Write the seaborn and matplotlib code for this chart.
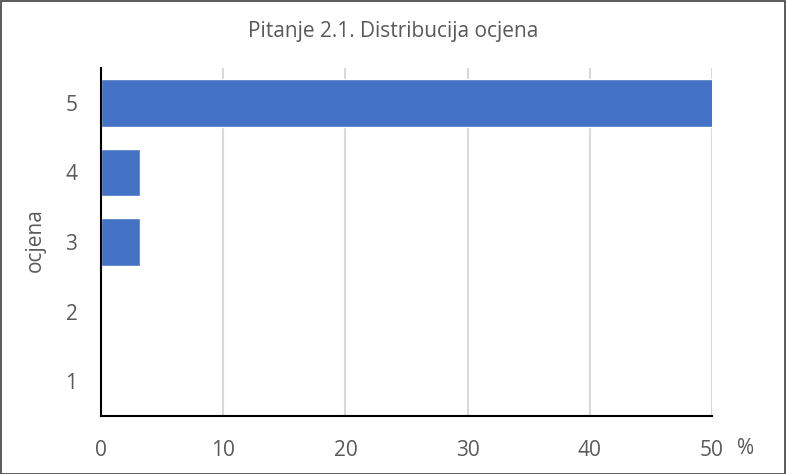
import pandas as pd
import numpy as np
import seaborn as sns
from matplotlib import pyplot as plt
from matplotlib.patches import Rectangle

# data
grades = ["5", "4", "3", "2", "1"]
percent = [93.5, 3.2, 3.2, 0, 0]
xticks = [0, 10, 20, 30, 40, 50]

df = pd.DataFrame({"ocjena": grades, "pct": percent})

sns.set_theme(style="white")
plt.rcParams["font.family"] = ["Open Sans", "DejaVu Sans"]
grey = "#595959"
fs = 15

fig = plt.figure(figsize=(7.86, 4.74), dpi=100)
ax = fig.add_axes([0.1285, 0.1224, 0.7774, 0.734])

sns.barplot(data=df, x="pct", y="ocjena", order=grades, orient="h",
            color="#4472c4", saturation=1, width=0.68, ax=ax, zorder=3)

ax.set_xlim(0, 50)
ax.set_ylim(4.5, -0.5)
ax.set_xticks(xticks)
ax.set_xticklabels([str(t) for t in xticks])
ax.grid(axis="x", color="#d9d9d9", linewidth=1.5, zorder=0)
ax.set_axisbelow(True)

for s in ["top", "right"]:
    ax.spines[s].set_visible(False)
for s in ["left", "bottom"]:
    ax.spines[s].set_color("black")
    ax.spines[s].set_linewidth(1.5)
    ax.spines[s].set_zorder(4)

ax.tick_params(axis="x", length=0, pad=17.5, labelsize=fs, labelcolor=grey)
ax.tick_params(axis="y", length=0, pad=17, labelsize=fs, labelcolor=grey)
ax.set_xlabel("")
ax.set_ylabel("")

fig.text(35 / 786, 1 - 240 / 474, "ocjena", fontsize=fs, color=grey,
         rotation=90, ha="center", va="center")
fig.text(746 / 786, 1 - 448 / 474, "%", fontsize=fs, color=grey,
         ha="center", va="center")
fig.text(393 / 786, 1 - 31 / 474, "Pitanje 2.1. Distribucija ocjena",
         fontsize=fs, color=grey, ha="center", va="center")

fig.patches.append(Rectangle((0.001, 0.001), 0.998, 0.997, transform=fig.transFigure,
                             fill=False, edgecolor="#404040", linewidth=1.2))

fig.savefig("out.png", dpi=100)
